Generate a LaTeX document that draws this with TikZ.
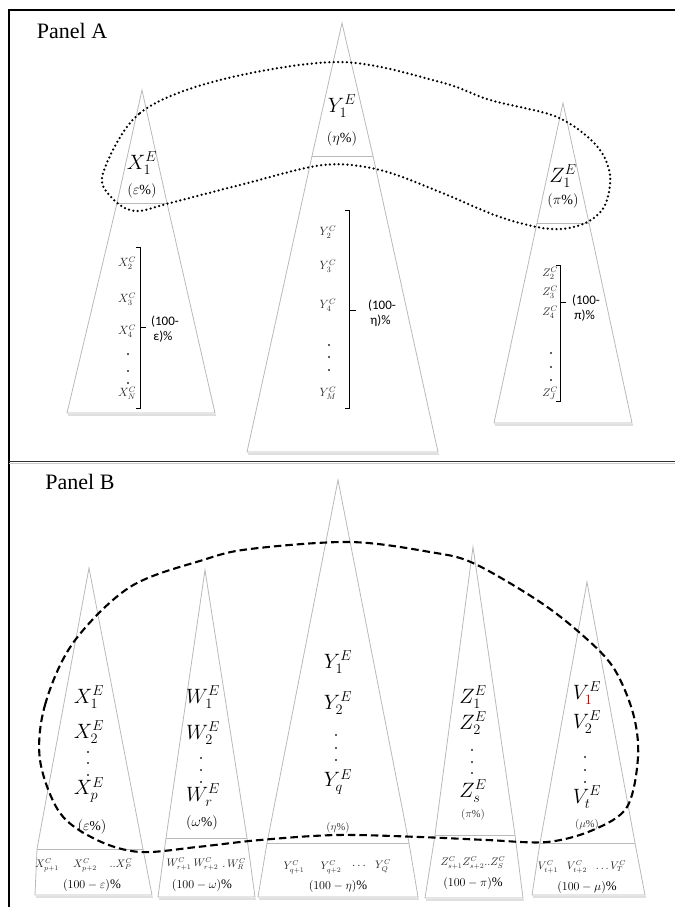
\documentclass[tikz,border=0pt]{standalone}
\usepackage{amsmath}
\usepackage{fontspec}
\setmainfont{Liberation Serif}
\newfontfamily\calfont{Carlito}
\begin{document}
\begin{tikzpicture}[x=1pt,y=-1pt,
  tri/.style={draw=gray!55, line width=0.8pt, line join=miter},
  shadowline/.style={draw=gray!25, line width=1.2pt},
  frame/.style={draw=black, line width=2.2pt},
  bigm/.style={inner sep=0pt, font=\fontsize{22}{24}\selectfont},
  pctA/.style={inner sep=0pt, font=\fontsize{14}{16}\selectfont},
  pctB/.style={inner sep=0pt, font=\fontsize{13.5}{15}\selectfont},
  pcts/.style={inner sep=0pt, font=\fontsize{10.5}{12}\selectfont, text=black!80},
  listm/.style={inner sep=0pt, font=\fontsize{12}{14}\selectfont, text=black!85},
  lists/.style={inner sep=0pt, font=\fontsize{11}{12}\selectfont, text=black!85},
  botm/.style={inner sep=0pt, font=\fontsize{10.5}{12}\selectfont, text=black!85},
  botp/.style={inner sep=0pt, font=\fontsize{13}{15}\selectfont},
  vdot/.style={circle, fill=black!85, inner sep=0pt, minimum size=2.4pt},
  brk/.style={draw=black, line width=0.8pt},
  rest/.style={inner sep=0pt, font=\calfont\fontsize{13}{15}\selectfont, align=left},
  panel/.style={inner sep=0pt, font=\fontsize{22}{24}\selectfont},
  dotcurve/.style={draw=black, line width=2.5pt, line cap=round, dash pattern=on 0pt off 4.4pt},
  dashcurve/.style={draw=black, line width=2.1pt, dash pattern=on 7.5pt off 4pt}
]
\useasboundingbox (0,0) rectangle (675,907);

% ---------- frame ----------
\coordinate (tl) at (9,10);
\coordinate (tr) at (675,10);
\coordinate (bl) at (9,907);
\coordinate (ml) at (9,461.5);
\coordinate (mr) at (675,461.5);
\draw[frame] (tr) -- (tl) -- (bl);
\draw[draw=gray!40, line width=1.2pt] ([yshift=-1.6pt]ml) -- ([yshift=-1.6pt]mr);
\draw[draw=black!80, line width=1.6pt] (ml) -- (mr);

\node[panel] (pA) at (72,31) {Panel A};
\node[panel] (pB) at (80,482) {Panel B};

% ---------- Panel A triangles ----------
% X
\draw[shadowline] (68,415) -- (216,415);
\draw[tri] (142,90) -- (117,203) -- (67,413) -- (215,413) -- (167,203) -- cycle;
\draw[tri] (117,203) -- (167,203);
% Y
\draw[shadowline] (248,454) -- (439,454);
\draw[tri] (342,23) -- (312,156) -- (247,452) -- (438,452) -- (373,156) -- cycle;
\draw[tri] (312,156) -- (373,156);
% Z
\draw[shadowline] (495,425) -- (633,425);
\draw[tri] (563,103) -- (537,223) -- (494,423) -- (632,423) -- (589,223) -- cycle;
\draw[tri] (537,223) -- (589,223);

% X texts
\node[bigm] (xa1) at (142,163) {$X_1^E$};
\node[pctA] (xap) at (142,191) {$(\varepsilon\%)$};
\node[listm] (xc2) at (127,263) {$X_2^C$};
\node[listm] (xc3) at (127,299) {$X_3^C$};
\node[listm] (xc4) at (127,331) {$X_4^C$};
\node[vdot] (xd1) at (128,354) {};
\node[vdot] (xd2) at (128,371) {};
\node[vdot] (xd3) at (128,383) {};
\node[listm] (xcN) at (127,393) {$X_N^C$};
\coordinate (xbt) at (140,247);
\coordinate (xbb) at (140,408);
\coordinate (xbm) at (140,327);
\draw[brk] ([xshift=-4pt]xbt) -- (xbt) -- (xbb) -- ([xshift=-4pt]xbb);
\draw[brk] (xbm) -- ([xshift=6pt]xbm);
\node[rest, anchor=west] (xr) at (151,329) {(100-\\\,ε)\%};

% Y texts
\node[bigm] (ya1) at (342,106) {$Y_1^E$};
\node[pctA] (yap) at (342,139) {$(\eta\%)$};
\node[listm] (yc2) at (328,232) {$Y_2^C$};
\node[listm] (yc3) at (328,266) {$Y_3^C$};
\node[listm] (yc4) at (328,305) {$Y_4^C$};
\node[vdot] (yd1) at (329,345) {};
\node[vdot] (yd2) at (329,357) {};
\node[vdot] (yd3) at (329,370) {};
\node[listm] (ycM) at (328,393) {$Y_M^C$};
\coordinate (ybt) at (349,210);
\coordinate (ybb) at (349,408);
\coordinate (ybm) at (349,310);
\draw[brk] ([xshift=-4pt]ybt) -- (ybt) -- (ybb) -- ([xshift=-4pt]ybb);
\draw[brk] (ybm) -- ([xshift=7pt]ybm);
\node[rest, anchor=west] (yr) at (368,313) {(100-\\\,η)\%};

% Z texts
\node[bigm] (za1) at (563,176) {$Z_1^E$};
\node[pctA] (zap) at (563,201) {$(\pi\%)$};
\node[lists] (zc2) at (550,273) {$Z_2^C$};
\node[lists] (zc3) at (550,292) {$Z_3^C$};
\node[lists] (zc4) at (550,312) {$Z_4^C$};
\node[vdot] (zd1) at (551,353) {};
\node[vdot] (zd2) at (551,367) {};
\node[vdot] (zd3) at (551,380) {};
\node[lists] (zcJ) at (550,393) {$Z_J^C$};
\coordinate (zbt) at (560,265);
\coordinate (zbb) at (560,401);
\coordinate (zbm) at (560,302);
\draw[brk] ([xshift=-4pt]zbt) -- (zbt) -- (zbb) -- ([xshift=-4pt]zbb);
\draw[brk] (zbm) -- ([xshift=6pt]zbm);
\node[rest, anchor=west] (zr) at (572,308) {(100-\\\,π)\%};

% Panel A dotted curve
\draw[dotcurve] plot[smooth cycle, tension=0.55] coordinates {
 (103,173) (140,113) (220,80) (340,62) (440,82) (490,100) (557,117)
 (596,145) (610,175) (604,207) (583,224) (550,229) (500,217) (440,192)
 (380,170) (323,165) (240,185) (170,203) (135,211) (112,198)};

% ---------- Panel B triangles ----------
% X
\draw[shadowline] (36,897) -- (153,897);
\draw[tri] (89,568) -- (37,849) -- (35,895) -- (152,895) -- (143,849) -- cycle;
\draw[tri] (37,849) -- (143,849);
% W
\draw[shadowline] (159,899) -- (256,899);
\draw[tri] (205,570) -- (166,838) -- (158,897) -- (255,897) -- (247,838) -- cycle;
\draw[tri] (166,838) -- (247,838);
% Y
\draw[shadowline] (259,899) -- (419,899);
\draw[tri] (338,480) -- (267,843) -- (258,897) -- (418,897) -- (409,843) -- cycle;
\draw[tri] (267,843) -- (409,843);
% Z
\draw[shadowline] (426,900) -- (524,900);
\draw[tri] (473,547) -- (435,835) -- (425,898) -- (523,898) -- (515,835) -- cycle;
\draw[tri] (435,835) -- (515,835);
% V
\draw[shadowline] (533,897) -- (646,897);
\draw[tri] (587,582) -- (540,843) -- (532,895) -- (645,895) -- (635,843) -- cycle;
\draw[tri] (540,843) -- (635,843);

% X texts B
\node[bigm] (xb1) at (89,697) {$X_1^E$};
\node[bigm] (xb2) at (89,732) {$X_2^E$};
\node[vdot] (xbd1) at (88,752) {};
\node[vdot] (xbd2) at (88,763) {};
\node[vdot] (xbd3) at (88,775) {};
\node[bigm] (xbp) at (89,790) {$X_p^E$};
\node[pctB] (xbpc) at (92,827) {$(\varepsilon\%)$};
\node[botm] (xbc1) at (47,865) {$X^C_{p+1}$};
\node[botm] (xbc2) at (85,865) {$X^C_{p+2}$};
\node[botm] (xbc3) at (121,864) {$..X^C_P$};
\node[botp] (xbr) at (92,885) {$(100-\varepsilon)\%$};

% W texts B
\node[bigm] (wb1) at (203,697) {$W_1^E$};
\node[bigm] (wb2) at (203,733) {$W_2^E$};
\node[vdot] (wbd1) at (201,758) {};
\node[vdot] (wbd2) at (201,770) {};
\node[vdot] (wbd3) at (201,782) {};
\node[bigm] (wbr) at (203,795) {$W_r^E$};
\node[pctB] (wbpc) at (202,823) {$(\omega\%)$};
\node[botm] (wbc1) at (179,864) {$W^C_{r+1}$};
\node[botm] (wbc2) at (206,864) {$W^C_{r+2}$};
\node[botm] (wbc3) at (234,864) {$.\,W^C_R$};
\node[botp] (wbrr) at (202,885) {$(100-\omega)\%$};

% Y texts B
\node[bigm] (yb1) at (338,662) {$Y_1^E$};
\node[bigm] (yb2) at (338,703) {$Y_2^E$};
\node[vdot] (ybd1) at (336,735) {};
\node[vdot] (ybd2) at (336,748) {};
\node[vdot] (ybd3) at (336,760) {};
\node[bigm] (ybq) at (338,782) {$Y_q^E$};
\node[pcts] (ybpc) at (338,828) {$(\eta\%)$};
\node[botm] (ybc1) at (294,867) {$Y^C_{q+1}$};
\node[botm] (ybc2) at (331,867) {$Y^C_{q+2}$};
\node[botp] (ybc3) at (360,866) {$\dots$};
\node[botm] (ybc4) at (383,866) {$Y^C_Q$};
\node[botp] (ybr) at (338,886) {$(100-\eta)\%$};

% Z texts B
\node[bigm] (zb1) at (473,697) {$Z_1^E$};
\node[bigm] (zb2) at (473,723) {$Z_2^E$};
\node[vdot] (zbd1) at (472,750) {};
\node[vdot] (zbd2) at (472,762) {};
\node[vdot] (zbd3) at (472,773) {};
\node[bigm] (zbs) at (473,791) {$Z_s^E$};
\node[pcts] (zbpc) at (473,815) {$(\pi\%)$};
\node[botm] (zbc) at (473,863) {$Z^C_{s+1}Z^C_{s+2}..Z^C_S$};
\node[botp] (zbr) at (473,883) {$(100-\pi)\%$};

% V texts B
\node[bigm] (vb1) at (587,693) {$V_{\textcolor{red!60!black}{1}}^E$};
\node[bigm] (vb2) at (587,722) {$V_2^E$};
\node[vdot] (vbd1) at (585,757) {};
\node[vdot] (vbd2) at (585,770) {};
\node[vdot] (vbd3) at (585,782) {};
\node[bigm] (vbt) at (587,797) {$V_t^E$};
\node[pcts] (vbpc) at (587,825) {$(\mu\%)$};
\node[botm] (vbc1) at (548,867) {$V^C_{t+1}$};
\node[botm] (vbc2) at (577,867) {$V^C_{t+2}$};
\node[botm] (vbc3) at (611,866) {$\dots V^C_T$};
\node[botp] (vbr) at (587,887) {$(100-\mu)\%$};

% Panel B dashed curve
\draw[dashcurve] plot[smooth cycle, tension=0.55] coordinates {
 (40,760) (45,705) (73,643) (130,587) (203,560) (250,549) (350,542)
 (430,552) (473,563) (537,600) (580,633) (613,667) (633,713) (638,757)
 (627,807) (593,830) (547,842) (487,840) (420,837) (337,835) (260,840)
 (197,847) (140,852) (97,840) (60,813)};

\end{tikzpicture}
\end{document}
